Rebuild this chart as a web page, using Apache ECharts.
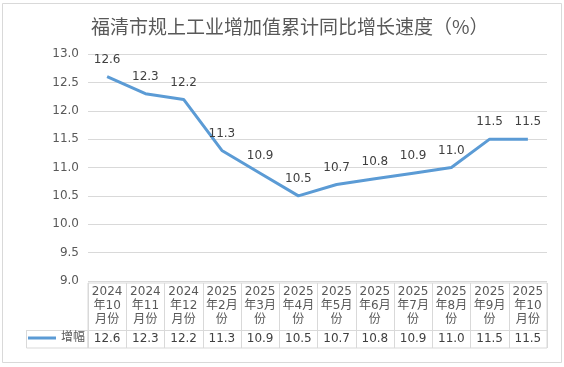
<!DOCTYPE html>
<html><head><meta charset="utf-8">
<script src="https://cdn.jsdelivr.net/npm/echarts@6/dist/echarts.min.js"></script>
<style>html,body{margin:0;padding:0;background:#fff}#c{width:564px;height:367px}</style>
</head><body><div id="c"></div>
<script>
const titleText = '福清市规上工业增加值累计同比增长速度（%）';
const categories = ['2024\n年10\n月份','2024\n年11\n月份','2024\n年12\n月份','2025\n年2月\n份','2025\n年3月\n份','2025\n年4月\n份','2025\n年5月\n份','2025\n年6月\n份','2025\n年7月\n份','2025\n年8月\n份','2025\n年9月\n份','2025\n年10\n月份'];
const seriesName = '增幅';
const values = [12.6, 12.3, 12.2, 11.3, 10.9, 10.5, 10.7, 10.8, 10.9, 11.0, 11.5, 11.5];
const yMin = 9, yMax = 13, yStep = 0.5;

const FONT = "'DejaVu Sans', 'Noto Sans CJK SC', sans-serif";
const GRID = '#d9d9d9';
const BLUE = '#5b9bd5';
const chart = echarts.init(document.getElementById('c'), null, {renderer: 'canvas'});
chart.setOption({
  animation: false,
  backgroundColor: '#fff',
  title: {
    text: titleText, left: 86, top: 12,
    textStyle: {fontSize: 19, fontWeight: 'normal', color: '#595959', fontFamily: "'Noto Sans CJK SC', sans-serif"}
  },
  legend: {
    data: [{name: seriesName, itemStyle: {color: BLUE}}], left: 28, top: 332, itemWidth: 28, itemHeight: 3, icon: 'rect',
    textStyle: {color: '#595959', fontSize: 12, fontFamily: FONT}, padding: 0
  },
  grid: [
    {left: 88, right: 17, top: 54, height: 227},
    {left: 88, right: 17, top: 283, height: 65, show: true, borderColor: GRID, borderWidth: 1, backgroundColor: 'transparent'}
  ],
  xAxis: [
    {
      type: 'category', gridIndex: 0, data: categories, boundaryGap: true,
      axisLine: {show: false}, axisTick: {show: false},
      axisLabel: {
        interval: 0, margin: 4, color: '#595959', fontSize: 12, lineHeight: 14, fontFamily: FONT,
        formatter: (v, i) => v + '\n{v|' + values[i].toFixed(1) + '}',
        rich: {v: {lineHeight: 24, fontSize: 12, color: '#404040', fontFamily: FONT}}
      }
    },
    {
      type: 'category', gridIndex: 1, data: categories, boundaryGap: true,
      axisLine: {show: false}, axisTick: {show: false}, axisLabel: {show: false},
      splitLine: {show: true, interval: 0, lineStyle: {color: GRID, width: 1}}
    }
  ],
  yAxis: [
    {
      type: 'value', gridIndex: 0, min: yMin, max: yMax, interval: yStep,
      axisLine: {show: false}, axisTick: {show: false},
      axisLabel: {margin: 9, color: '#595959', fontSize: 12, fontFamily: FONT, formatter: v => v.toFixed(1)},
      splitLine: {lineStyle: {color: GRID, width: 1}}
    },
    {type: 'value', gridIndex: 1, show: false}
  ],
  series: [{
    name: seriesName, type: 'line', xAxisIndex: 0, yAxisIndex: 0, data: values,
    symbol: 'circle', symbolSize: 0, showSymbol: true, showAllSymbol: true, color: BLUE,
    itemStyle: {color: BLUE},
    lineStyle: {width: 3, color: BLUE},
    label: {show: true, position: 'top', distance: 11, color: '#404040', fontSize: 12, fontFamily: FONT, formatter: p => Number(p.value).toFixed(1)},
    labelLayout: {hideOverlap: false}
  }],
  graphic: [
    {type: 'rect', shape: {x: 2.5, y: 3.5, width: 559, height: 359}, style: {fill: 'none', stroke: GRID, lineWidth: 1}, silent: true, z: -1},
    {type: 'line', shape: {x1: 26, y1: 330.5, x2: 547, y2: 330.5}, style: {stroke: GRID, lineWidth: 1}, silent: true},
    {type: 'rect', shape: {x: 26.5, y: 330.5, width: 61.5, height: 17.5}, style: {fill: 'none', stroke: GRID, lineWidth: 1}, silent: true}
  ]
});
</script></body></html>
